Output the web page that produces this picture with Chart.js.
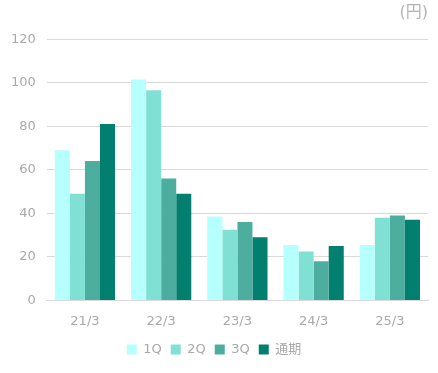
<!DOCTYPE html>
<html>
<head>
<meta charset="utf-8">
<script src="https://cdn.jsdelivr.net/npm/chart.js@4"></script>
<style>
  html,body{margin:0;padding:0;background:#fff}
  #wrap{position:relative;width:438px;height:373px}
</style>
</head>
<body>
<div id="wrap"><canvas id="chart"></canvas></div>
<script>
// Data
const categories = ['21/3','22/3','23/3','24/3','25/3'];
const q1     = [69, 101.5, 38.5, 25.5, 25.5];
const q2     = [49, 96.5, 32.5, 22.5, 38];
const q3     = [64, 56, 36, 18, 39];
const annual = [81, 49, 29, 25, 37];
const seriesNames  = ['1Q','2Q','3Q','通期'];
const seriesColors = ['#b5fffc','#80e0d4','#4daea0','#037f70'];
const yTicks = [0,20,40,60,80,100,120];

const FONT = '"DejaVu Sans","Noto Sans CJK JP",sans-serif';
const GREY = '#a9a9a9';

const datasets = [q1,q2,q3,annual].map((d,i)=>({
  label: seriesNames[i], data: d, backgroundColor: seriesColors[i],
  borderWidth: 0, barPercentage: 1, categoryPercentage: 0.79
}));

new Chart(document.getElementById('chart'), {
  type: 'bar',
  data: {labels: categories, datasets},
  options: {
    responsive: true, maintainAspectRatio: false, animation: false,
    layout: {padding: {left: 0, right: 10, top: 3, bottom: 7}},
    plugins: {
      title: {display: true, text: '(円)', align: 'end', color: '#b4b4b4',
        font: {family: FONT, size: 16, weight: 'normal'}, padding: {top: 0, bottom: 17}},
      legend: {position: 'bottom',
        labels: {color: GREY, font: {family: FONT, size: 13}, boxWidth: 10, boxHeight: 10, padding: 9}},
      tooltip: {enabled: false}
    },
    scales: {
      x: {grid: {display: false}, border: {color: '#d9d9d9'},
        ticks: {color: GREY, font: {family: FONT, size: 13}, padding: 5}},
      y: {min: 0, max: 120,
        afterBuildTicks: ax => { ax.ticks = yTicks.map(v => ({value: v})); },
        grid: {color: '#d9d9d9', drawTicks: false}, border: {display: false},
        ticks: {color: GREY, font: {family: FONT, size: 13}, padding: 11}}
    }
  }
});
</script>
</body>
</html>
